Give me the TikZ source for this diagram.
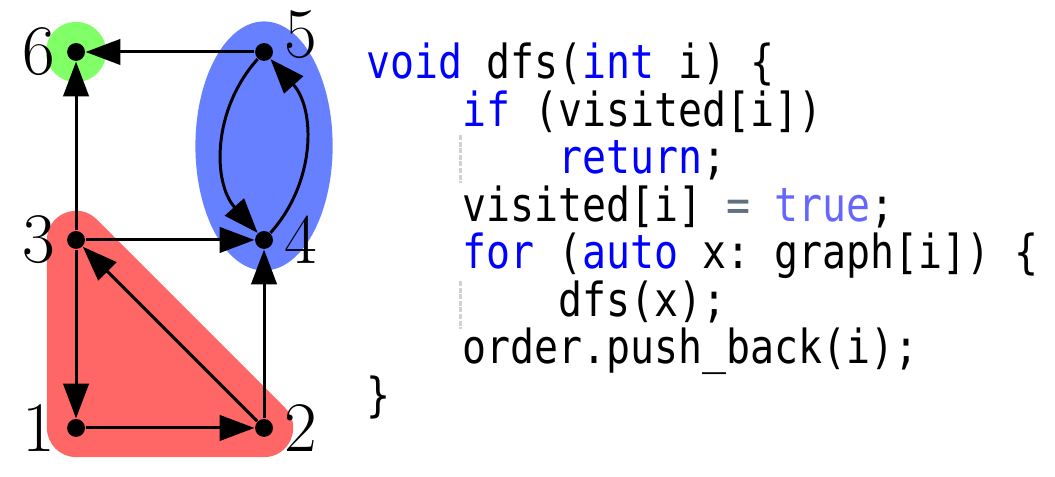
\documentclass[tikz,border=0pt]{standalone}
\usepackage{fontspec}
\setmonofont[FakeStretch=0.85]{DejaVu Sans Mono}
\usepackage{xcolor}
\usetikzlibrary{positioning, arrows.meta, calc, backgrounds}

\definecolor{blobred}{HTML}{FF6666}
\definecolor{blobblue}{HTML}{6680FF}
\definecolor{blobgreen}{HTML}{80FF66}
\definecolor{kwblue}{HTML}{0000FF}
\definecolor{litblue}{HTML}{6666FF}
\definecolor{opgray}{HTML}{607080}
\newcommand{\kw}[1]{\textcolor{kwblue}{#1}}

\tikzset{
  vertex/.style={circle, fill=black, inner sep=0pt, minimum size=0.19cm},
  edge/.style={line width=0.9pt, -{Triangle[length=0.37cm, width=0.27cm]}},
  codeline/.style={anchor=base west, inner sep=0pt, font=\fontsize{14.2}{17}\selectfont\ttfamily},
  guide/.style={black!18, line width=0.9pt, dash pattern=on 1.5pt off 0.5pt},
  every label/.style={inner sep=0pt, font=\fontsize{21.5}{24}\selectfont},
}

\begin{document}
\begin{tikzpicture}
\useasboundingbox (-0.809,-0.521) rectangle (10.415,4.553);
% the graph
\node[vertex, label={[label distance=0.11cm]left:1}] (v1) at (0,0) {};
\node[vertex, label={[label distance=0.11cm]right:2}] (v2) at (2,0) {};
\node[vertex, label={[label distance=0.11cm]left:3}] (v3) at (0,2) {};
\node[vertex, label={[label distance=0.11cm]right:4}] (v4) at (2,2) {};
\node[vertex, label={[label distance=0.11cm, yshift=0.18cm]right:5}] (v5) at (2,4) {};
\node[vertex, label={[label distance=0.11cm]left:6}] (v6) at (0,4) {};

\draw[edge] (v5) -- (v6);
\draw[edge] (v3) -- (v6);
\draw[edge] (v3) -- (v4);
\draw[edge] (v2) -- (v4);
\draw[edge] (v2) -- (v3);
\draw[edge] (v3) -- (v1);
\draw[edge] (v1) -- (v2);
\draw[edge] (v5) to[bend right=42] (v4);
\draw[edge] (v4) to[bend right=42] (v5);

% components
\begin{scope}[on background layer]
\fill[blobgreen] (v6) circle (0.32);
\fill[blobblue] ($(v4)!0.5!(v5)$) ellipse (0.73 and 1.325);
\filldraw[blobred, line width=0.62cm, line join=round] (v1.center) -- (v2.center) -- (v3.center) -- cycle;
\end{scope}

% the code
\node[codeline] (c1) at (3.08,3.713) {\kw{void} dfs(\kw{int} i) \{};
\node[codeline] (c2) at (4.101,3.208) {\kw{if} (visited[i])};
\node[codeline] (c3) at (5.122,2.703) {\kw{return};};
\node[codeline] (c4) at (4.101,2.198) {visited[i] \textcolor{opgray}{=} \textcolor{litblue}{true};};
\node[codeline] (c5) at (4.101,1.693) {\kw{for} (\kw{auto} x: graph[i]) \{};
\node[codeline] (c6) at (5.122,1.188) {dfs(x);};
\node[codeline] (c7) at (4.101,0.683) {order.push\_back(i);};
\node[codeline] (c8) at (3.08,0.178) {\}};
\foreach \y in {3.117,1.564} % indent guides
\draw[guide] (4.085,\y) -- ++(0,-0.51);
\end{tikzpicture}
\end{document}
